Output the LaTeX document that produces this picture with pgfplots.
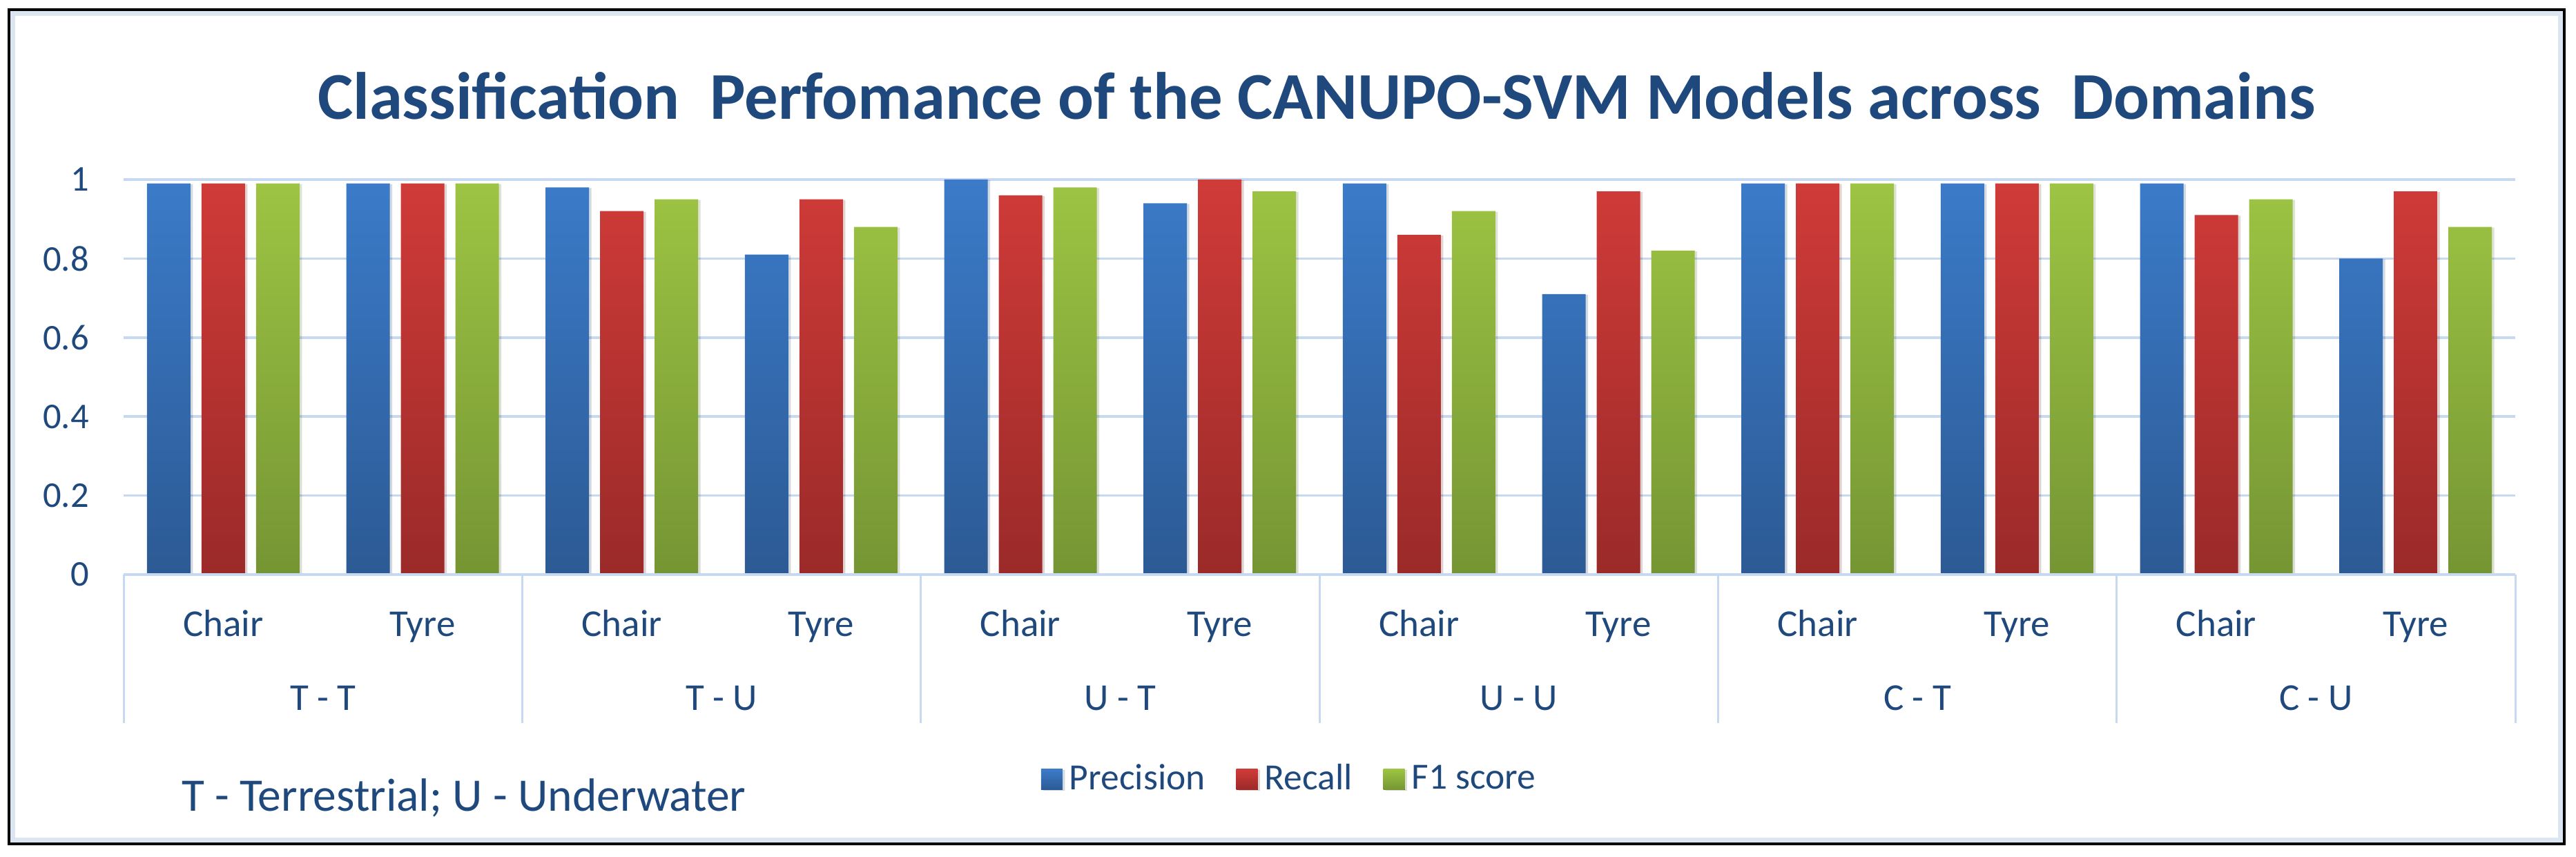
\documentclass[border=0pt]{standalone}
\usepackage{fontspec}
\setmainfont{Carlito}
\usepackage{pgfplots}
\pgfplotsset{compat=1.18}
\usepackage{pgfplotstable}
\usetikzlibrary{shadows}
\definecolor{txt}{HTML}{1F497D}
\definecolor{gridblue}{HTML}{C6D9F1}
\definecolor{bandblue}{HTML}{DCE6F2}
\definecolor{bTop}{HTML}{3B7BC9}
\definecolor{bBot}{HTML}{2C5A94}
\definecolor{rTop}{HTML}{D03B38}
\definecolor{rBot}{HTML}{9A2A29}
\definecolor{gTop}{HTML}{9DC443}
\definecolor{gBot}{HTML}{759534}
\newcommand{\lblfont}{\fontsize{11}{13}\selectfont}

\pgfplotstableread{
x P R F
0 0.99 0.99 0.99
1 0.99 0.99 0.99
2 0.98 0.92 0.95
3 0.81 0.95 0.88
4 1.00 0.96 0.98
5 0.94 1.00 0.97
6 0.99 0.86 0.92
7 0.71 0.97 0.82
8 0.99 0.99 0.99
9 0.99 0.99 0.99
10 0.99 0.91 0.95
11 0.80 0.97 0.88
}\datatable

\begin{document}
\begin{tikzpicture}
\useasboundingbox (0,0) rectangle (746.2pt,248.2pt);
\draw[bandblue, line width=1.4pt] (3.7pt,4.9pt) rectangle (741.7pt,244.3pt);
\draw[black, line width=0.8pt] (2.6pt,3.8pt) rectangle (742.8pt,245.4pt);
\node[anchor=base, inner sep=0pt, text=txt, font=\fontsize{19.35}{23}\selectfont\bfseries] at (381.4pt,213.6pt) {Classification\ \ Perfomance of the CANUPO-SVM Models across\ \ Domains};
\node[anchor=base west, inner sep=0pt, text=txt, font=\fontsize{13.5}{16}\selectfont] at (52.4pt,13.2pt) {T - Terrestrial; U - Underwater};
\begin{axis}[
  at={(35.8pt,81.8pt)}, anchor=south west,
  scale only axis, width=692.8pt, height=114.4pt,
  xmin=-0.5, xmax=11.5, ymin=0, ymax=1,
  ybar=3.2pt, bar width=12.6pt,
  axis line style={draw=none},
  ytick={0,0.2,0.4,0.6,0.8,1},
  ymajorgrids, grid style={gridblue, line width=0.7pt},
  ytick pos=left, xtick pos=bottom,
  major tick length=0pt,
  tick style={draw=none},
  yticklabel style={font=\fontsize{10.5}{12}\selectfont, text=txt, /pgf/number format/fixed, /pgf/number format/assume math mode=true, xshift=-6.5pt},
  xtick={0,1,2,3,4,5,6,7,8,9,10,11},
  xticklabels={Chair,Tyre,Chair,Tyre,Chair,Tyre,Chair,Tyre,Chair,Tyre,Chair,Tyre},
  xticklabel style={font=\lblfont, text=txt, anchor=base, yshift=-18pt},
  extra x ticks={-0.5,1.5,3.5,5.5,7.5,9.5,11.5},
  extra x tick labels={},
  extra x tick style={major tick length=43pt, tick align=outside, tick style={draw=gridblue, line width=0.6pt}},
  clip=false,
  legend columns=3,
  legend style={at={(0.4885,-0.519)}, anchor=center, draw=none, fill=none, font=\fontsize{10.7}{12}\selectfont, text=txt, /tikz/every even column/.append style={column sep=7pt}},
  legend image code/.code={\fill[#1] (0pt,-3pt) rectangle (6.2pt,3pt);},
  bar shadow/.style={drop shadow={shadow xshift=0.7pt, shadow yshift=-0.2pt, fill=black, opacity=0.1}},
]
\addplot[draw=none, bar shadow, top color=bTop, bottom color=bBot] table[x=x, y=P] {\datatable};
\addplot[draw=none, bar shadow, top color=rTop, bottom color=rBot] table[x=x, y=R] {\datatable};
\addplot[draw=none, bar shadow, top color=gTop, bottom color=gBot] table[x=x, y=F] {\datatable};
\draw[gridblue, line width=0.9pt] (axis cs:-0.5,0) -- (axis cs:11.5,0);
\legend{Precision, Recall, F1 score}
\node[font=\lblfont, text=txt, anchor=base, yshift=-39.4pt] at (axis cs:0.5,0) {T - T};
\node[font=\lblfont, text=txt, anchor=base, yshift=-39.4pt] at (axis cs:2.5,0) {T - U};
\node[font=\lblfont, text=txt, anchor=base, yshift=-39.4pt] at (axis cs:4.5,0) {U - T};
\node[font=\lblfont, text=txt, anchor=base, yshift=-39.4pt] at (axis cs:6.5,0) {U - U};
\node[font=\lblfont, text=txt, anchor=base, yshift=-39.4pt] at (axis cs:8.5,0) {C - T};
\node[font=\lblfont, text=txt, anchor=base, yshift=-39.4pt] at (axis cs:10.5,0) {C - U};
\end{axis}
\end{tikzpicture}
\end{document}
